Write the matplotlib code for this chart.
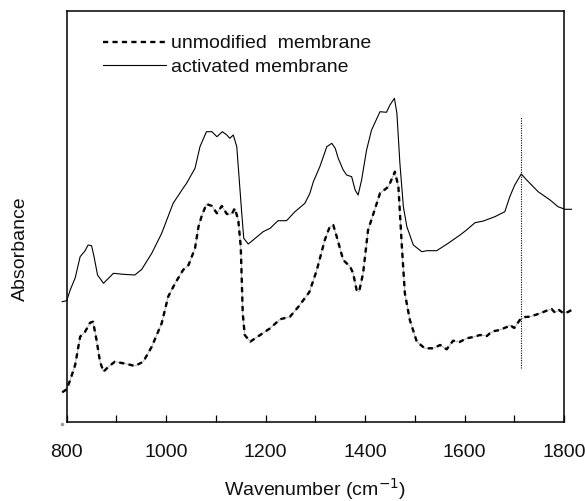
import matplotlib
matplotlib.use("Agg")
import matplotlib.pyplot as plt

plt.rcParams['font.family'] = ['Liberation Sans', 'DejaVu Sans']

# Activated membrane (solid) -- wavenumber, absorbance (arbitrary units)
act_wn = [791, 800, 807, 817, 827, 837, 843, 850, 855, 862, 874, 894, 914, 937, 951,
          971, 991, 1014, 1034, 1041, 1058, 1068, 1081, 1092, 1102, 1113, 1122, 1128,
          1135, 1142, 1147, 1152, 1156, 1165, 1175, 1195, 1209, 1225, 1242, 1259, 1279,
          1289, 1296, 1309, 1323, 1333, 1340, 1346, 1356, 1363, 1373, 1380, 1386, 1393,
          1403, 1413, 1430, 1443, 1450, 1459, 1464, 1470, 1477, 1484, 1497, 1514, 1524,
          1544, 1567, 1591, 1604, 1621, 1638, 1661, 1681, 1691, 1701, 1714, 1725, 1748,
          1772, 1788, 1802, 1815]
act_abs = [120.3, 121.3, 132, 144, 165.3, 171.3, 177, 176.3, 165.3, 147, 138.7, 148.7,
           147.7, 147, 152.7, 168.7, 188.7, 218.7, 233.7, 238.7, 253.7, 275.3, 290.3,
           290.3, 285.3, 290.3, 287, 283.7, 287, 275.3, 242, 208.7, 183.7, 178, 182,
           190.3, 193.7, 201.3, 201.3, 210.3, 218.7, 228.7, 240.3, 255.3, 275.3, 278.7,
           273.7, 263.7, 252, 247, 245.3, 232, 227, 242, 272, 292, 310.3, 309.7, 317,
           323.7, 308.7, 258.7, 215.3, 195.3, 177, 170.3, 171.3, 171.3, 178.7, 187, 192,
           199.3, 201, 205.3, 210.3, 225.3, 237, 248, 242, 230.3, 222, 215.3, 212.7, 212.7]

# Unmodified membrane (dashed)
unm_wn = [791, 800, 807, 817, 827, 837, 847, 853, 860, 867, 874, 884, 897, 921, 937,
          954, 971, 991, 1004, 1018, 1034, 1045, 1058, 1065, 1071, 1081, 1092, 1102,
          1112, 1122, 1132, 1138, 1145, 1150, 1152, 1154, 1158, 1169, 1189, 1209, 1229,
          1249, 1266, 1288, 1303, 1319, 1329, 1336, 1343, 1356, 1370, 1376, 1383, 1388,
          1396, 1406, 1417, 1430, 1447, 1460, 1467, 1474, 1480, 1490, 1504, 1520, 1537,
          1551, 1564, 1577, 1590, 1604, 1618, 1631, 1645, 1651, 1660, 1671, 1685, 1691,
          1700, 1711, 1722, 1732, 1742, 1752, 1765, 1775, 1782, 1790, 1799, 1808, 1815]
unm_abs = [29.7, 32.7, 42, 57, 85.3, 90.3, 99.3, 100.3, 82, 60.3, 50.3, 55.3, 60.3, 58,
           56, 60.3, 75.3, 98.7, 125.3, 138.7, 152, 157, 173.7, 195.3, 205.3, 218, 216,
           208.7, 216, 208, 208, 213.7, 202, 175.3, 142, 108.7, 87, 80.3, 87, 93.7, 102.7,
           105.3, 115.3, 130, 152, 182, 195.3, 197, 185.3, 162, 155.3, 148.7, 132, 130.3,
           148.7, 192, 208.7, 228.7, 235.3, 250.3, 235.3, 175.3, 128.7, 102, 80.3, 73.7,
           73.7, 77, 72.7, 81.3, 80, 83.7, 85, 87, 86, 88.7, 91, 92, 95, 97,
           94, 102, 105, 105.3, 107, 108.7, 111.3, 113, 109.3, 112, 108.7, 110, 112]

marker_wn = 1714
marker_lo, marker_hi = 53.7, 305.3

xticks_major = [800, 1000, 1200, 1400, 1600, 1800]
xticks_minor = [900, 1100, 1300, 1500, 1700]

fig = plt.figure(figsize=(5.85, 5.01), dpi=100)
ax = fig.add_axes([66.7/585, 1 - 422/501, (564 - 66.7)/585, (422 - 11)/501])

ax.plot(unm_wn, unm_abs, color='#9a9a9a', lw=0.5, clip_on=False, zorder=2)
ax.plot(unm_wn, unm_abs, color='black', lw=1.7, linestyle=(0, (2.2, 1.8)),
        clip_on=False, zorder=3, label='unmodified  membrane')
ax.plot(act_wn, act_abs, color='black', lw=0.8, clip_on=False, zorder=3,
        label='activated membrane')
ax.vlines(marker_wn, marker_lo, marker_hi, colors='black', linestyles=(0, (1, 1.2)),
          lw=0.8)
ax.plot([790], [-2], marker='o', ms=1.5, color='#999999', clip_on=False)

ax.set_xlim(800, 1800)
ax.set_ylim(0, 411)
ax.set_xticks(xticks_major)
ax.set_xticks(xticks_minor, minor=True)
ax.set_yticks([])
ax.tick_params(axis='x', which='both', direction='in', length=5, width=0.9,
               labelsize=14, pad=16, colors='black', labelcolor='#111111')
for s in ax.spines.values():
    s.set_linewidth(1.1)

ax.set_xlabel('Wavenumber (cm$^{-1}$)', fontsize=14, labelpad=10.5, color='#111111')
ax.set_ylabel('Absorbance', fontsize=14, color='#111111')
ax.yaxis.set_label_coords(-0.076, 0.421)

leg = ax.legend(loc='upper left', bbox_to_anchor=(0.0736, 0.942), frameon=False,
                fontsize=14, handlelength=3.2, handletextpad=0.3, labelspacing=0.3,
                borderpad=0, borderaxespad=0)
for t in leg.get_texts():
    t.set_color('#111111')

fig.savefig('out.png', dpi=100)
